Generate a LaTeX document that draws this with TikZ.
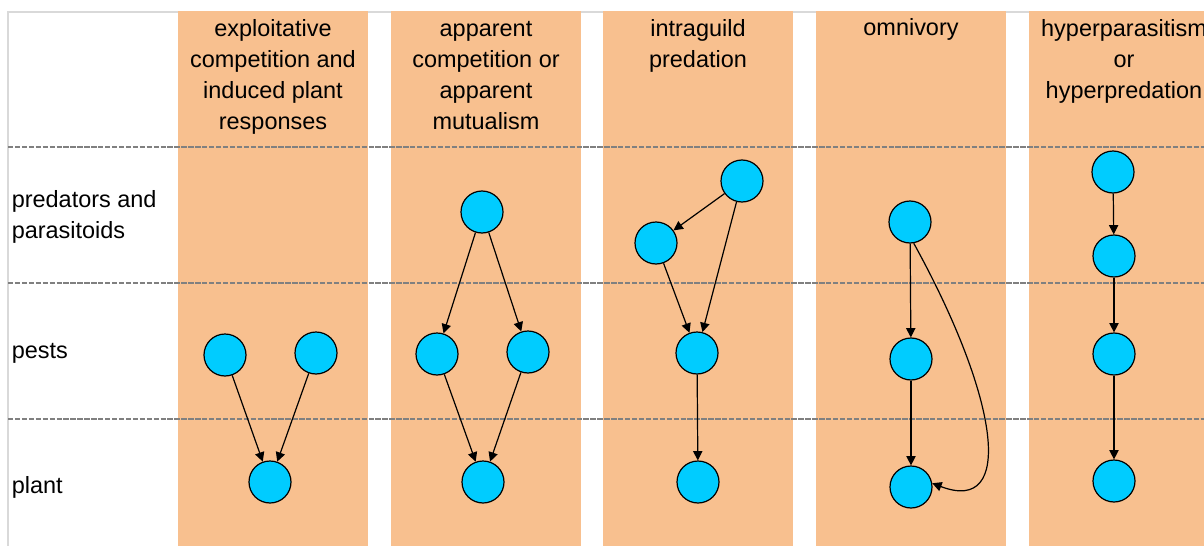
\documentclass[tikz,border=0pt]{standalone}
\usepackage{fontspec}
\setmainfont{Liberation Sans}
\usetikzlibrary{arrows.meta}
\definecolor{colfill}{RGB}{248,192,143}
\definecolor{nodefill}{RGB}{0,204,255}
\definecolor{framegray}{RGB}{217,217,217}
\definecolor{dashgray}{RGB}{128,128,128}
\begin{document}
\begin{tikzpicture}[x=0.75pt,y=-0.75pt,
  sp/.style={circle,draw=black,line width=0.9pt,fill=nodefill,minimum size=31.5pt,inner sep=0pt},
  ar/.style={-{Triangle[length=7pt,width=7pt]},line width=0.9pt},
  head/.style={align=center,font=\fontsize{17.6}{23.25}\selectfont,anchor=base,inner sep=0pt},
  rowlab/.style={align=left,font=\fontsize{17.6}{23.25}\selectfont,anchor=base west,inner sep=0pt},
  band/.style={fill=colfill,draw=none},
  sepline/.style={draw=dashgray,line width=1.5pt,dash pattern=on 4pt off 1.2pt}]
\useasboundingbox (0,0) rectangle (1204,546);
\clip (0,0) rectangle (1204,546);
% frame
\draw[framegray,line width=1.5pt] (8,560) -- (8,12) -- (1220,12);
% columns
\fill[band] (178,11) rectangle (368,550);
\fill[band] (391,11) rectangle (581,550);
\fill[band] (603,11) rectangle (793,550);
\fill[band] (816,11) rectangle (1006,550);
\fill[band] (1029,11) rectangle (1219,550);
% separators
\draw[sepline] (8,147) -- (1210,147);
\draw[sepline] (8,283) -- (1210,283);
\draw[sepline] (8,419) -- (1210,419);
% headers (anchor base = baseline of the last line)
\node[head] (h1) at (273,129) {exploitative\\competition and\\induced plant\\responses};
\node[head] (h2) at (486,129) {apparent\\competition or\\apparent\\mutualism};
\node[head] (h3) at (698,67) {intraguild\\predation};
\node[head] (h4) at (911,36) {omnivory};
\node[head] (h5) at (1124,98) {hyperparasitism\\or\\hyperpredation};
% row labels
\node[rowlab] (r1) at (11.5,238) {predators and\\parasitoids};
\node[rowlab] (r2) at (11.5,358) {pests};
\node[rowlab] (r3) at (11.5,493) {plant};
% column 1
\node[sp] (a1) at (225,355) {};
\node[sp] (a2) at (316,353) {};
\node[sp] (a3) at (270,482) {};
\draw[ar] (a1) -- (a3);
\draw[ar] (a2) -- (a3);
% column 2
\node[sp] (b0) at (482,212) {};
\node[sp] (b1) at (437,354) {};
\node[sp] (b2) at (528,352) {};
\node[sp] (b3) at (483,482) {};
\draw[ar] (b0) -- (b1);
\draw[ar] (b0) -- (b2);
\draw[ar] (b1) -- (b3);
\draw[ar] (b2) -- (b3);
% column 3
\node[sp] (c0) at (742,181) {};
\node[sp] (c1) at (656,243) {};
\node[sp] (c2) at (697,353) {};
\node[sp] (c3) at (698,482) {};
\draw[ar] (c0) -- (c1);
\draw[ar] (c0) -- (c2);
\draw[ar] (c1) -- (c2);
\draw[ar] (c2) -- (c3);
% column 4
\node[sp] (d0) at (910,222) {};
\node[sp] (d1) at (911,359) {};
\node[sp] (d2) at (911,487) {};
\draw[ar] (d0) -- (d1);
\draw[ar] (d1) -- (d2);
\draw[ar] (d0.-80) .. controls (1000,400) and (1015,515) .. (d2.10);
% column 5
\node[sp] (e0) at (1113,172) {};
\node[sp] (e1) at (1114,256) {};
\node[sp] (e2) at (1114,354) {};
\node[sp] (e3) at (1114,481) {};
\draw[ar] (e0) -- (e1);
\draw[ar] (e1) -- (e2);
\draw[ar] (e2) -- (e3);
\end{tikzpicture}
\end{document}
